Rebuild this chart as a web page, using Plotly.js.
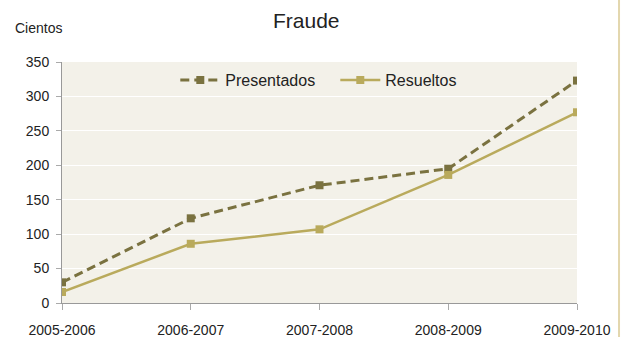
<!DOCTYPE html>
<html>
<head>
<meta charset="utf-8">
<script src="https://cdn.plot.ly/plotly-3.0.1.min.js"></script>
<style>html,body{margin:0;padding:0;background:#fff;}#chart{width:625px;height:337px;}</style>
</head>
<body>
<div id="chart"></div>
<script>
const categories = ["2005-2006", "2006-2007", "2007-2008", "2008-2009", "2009-2010"];
const presentados = [30, 123, 171, 195, 323];
const resueltos = [16, 86, 107, 186, 277];
const yTicks = [0, 50, 100, 150, 200, 250, 300, 350];

const font = "Liberation Sans, Arial, sans-serif";

const traces = [
  {
    x: categories, y: presentados, name: "Presentados", type: "scatter", mode: "lines+markers",
    line: {color: "#7a7240", width: 3, dash: "9px,5px"},
    marker: {symbol: "square", size: 8, color: "#7a7240"}
  },
  {
    x: categories, y: resueltos, name: "Resueltos", type: "scatter", mode: "lines+markers",
    line: {color: "#b9aa5c", width: 2.5},
    marker: {symbol: "square", size: 8, color: "#b9aa5c"}
  }
];

const layout = {
  width: 625, height: 337,
  margin: {l: 62, r: 48, t: 62, b: 34},
  paper_bgcolor: "#ffffff",
  plot_bgcolor: "#f3f1e9",
  font: {family: font, color: "#222", size: 14},
  title: {text: "Fraude", font: {family: font, size: 21, color: "#222"}, x: 0.49, xanchor: "center", y: 0.94, yanchor: "middle"},
  showlegend: true,
  legend: {orientation: "h", x: 0.22, xanchor: "left", y: 0.925, yanchor: "middle",
    bgcolor: "rgba(0,0,0,0)", font: {family: font, size: 16, color: "#222"}, itemwidth: 40,
    entrywidth: 105, entrywidthmode: "pixels"},
  xaxis: {
    type: "category", range: [0, 4], showgrid: false, zeroline: false,
    showline: true, linecolor: "#999", linewidth: 1,
    ticks: "outside", ticklen: 6, tickcolor: "#aaa",
    tickfont: {family: font, size: 14, color: "#222"}, ticklabelstandoff: 8
  },
  yaxis: {
    range: [0, 350], tickvals: yTicks, showgrid: true, gridcolor: "#ffffff", gridwidth: 1,
    zeroline: false, showline: true, linecolor: "#999", linewidth: 1,
    ticks: "outside", ticklen: 5, tickcolor: "#aaa",
    tickfont: {family: font, size: 14, color: "#222"}, ticklabelstandoff: 4
  },
  annotations: [
    {text: "Cientos", xref: "paper", yref: "paper", x: -0.095, y: 1.14, xanchor: "left", yanchor: "middle",
     showarrow: false, font: {family: font, size: 14, color: "#222"}}
  ],
  shapes: [
    {type: "line", xref: "paper", yref: "paper", x0: 1.0816, x1: 1.0816, y0: -0.15, y1: 1.27,
     line: {color: "#e3d7ae", width: 2}}
  ]
};

Plotly.newPlot("chart", traces, layout, {displayModeBar: false, staticPlot: true});
</script>
</body>
</html>
